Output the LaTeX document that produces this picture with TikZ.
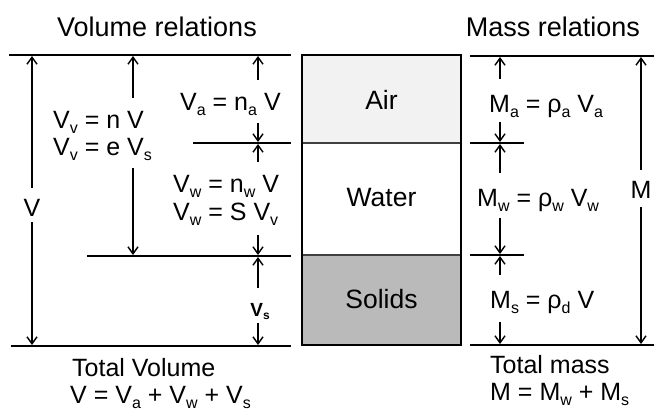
\documentclass[tikz,border=0pt]{standalone}
\usepackage{fontspec}
\setmainfont{Liberation Sans}
\usetikzlibrary{arrows.meta}
\newcommand\lsub[1]{\raisebox{-5pt}{\fontsize{16}{16}\selectfont #1}}
\begin{document}
\begin{tikzpicture}[x=1pt,y=-1pt,
  hline/.style={line width=2pt},
  dim/.style={line width=1.4pt,-{Straight Barb[length=7pt,width=10pt]}},
  lbl/.style={anchor=base west,inner sep=0pt,font=\fontsize{25}{30}\selectfont},
  clbl/.style={anchor=base,inner sep=0pt,font=\fontsize{25}{30}\selectfont},
  boxlbl/.style={anchor=base,inner sep=0pt,font=\fontsize{26.5}{30}\selectfont},
  title/.style={anchor=base,inner sep=0pt,font=\fontsize{27}{32}\selectfont}]
\useasboundingbox (0,0) rectangle (654,408);
% titles
\node[title] (tv) at (157,36) {Volume relations};
\node[title] (tm) at (553,36) {Mass relations};
% phase box
\path[fill=black!5] (302,55) rectangle (461,143);
\path[fill=black!27] (302,255) rectangle (461,345);
\draw[line width=1.6pt,black!75] (302,143) -- (461,143);
\draw[line width=1.6pt,black!75] (302,255) -- (461,255);
\draw[line width=2pt] (302,55) rectangle (461,345);
\node[boxlbl] (air) at (381.5,109) {Air};
\node[boxlbl] (water) at (381.5,206) {Water};
\node[boxlbl] (solids) at (381.5,308) {Solids};
% left reference lines
\draw[hline] (9,55) coordinate (L0a) -- (291,55) coordinate (L0b);
\draw[line width=2.6pt] (193,143) coordinate (L1a) -- (291,143) coordinate (L1b);
\draw[hline] (87,256) coordinate (L2a) -- (291,256) coordinate (L2b);
\draw[hline] (11,346) coordinate (L3a) -- (291,346) coordinate (L3b);
% right reference lines
\draw[hline] (470,56) coordinate (R0a) -- (654,56) coordinate (R0b);
\draw[hline] (470,143) coordinate (R1a) -- (524,143) coordinate (R1b);
\draw[hline] (470,255) coordinate (R2a) -- (524,255) coordinate (R2b);
\draw[hline] (470,345) coordinate (R3a) -- (654,345) coordinate (R3b);
% left labels
\node[clbl] (V) at (32,216) {V};
\node[lbl] (vv1) at (53,128) {V\lsub{v} = n V};
\node[lbl] (vv2) at (53,155) {V\lsub{v} = e V\lsub{s}};
\node[lbl] (va) at (180,110) {V\lsub{a} = n\lsub{a} V};
\node[lbl] (vw1) at (173,192) {V\lsub{w} = n\lsub{w} V};
\node[lbl] (vw2) at (173,220) {V\lsub{w} = S V\lsub{v}};
\node[anchor=base,inner sep=0pt,font=\fontsize{19}{22}\selectfont\bfseries] (vs) at (260,316) {V\raisebox{-3pt}{\fontsize{12}{12}\selectfont s}};
\node[lbl] (tv1) at (72,376) {Total Volume};
\node[lbl] (tv2) at (70,403) {V = V\lsub{a} + V\lsub{w} + V\lsub{s}};
% right labels
\node[lbl] (ma) at (489,112) {M\lsub{a} = ρ\lsub{a} V\lsub{a}};
\node[lbl] (mw) at (477,206) {M\lsub{w} = ρ\lsub{w} V\lsub{w}};
\node[lbl] (ms) at (490,308) {M\lsub{s} = ρ\lsub{d} V};
\node[clbl] (M) at (641,198) {M};
\node[lbl] (tm1) at (490,373) {Total mass};
\node[lbl] (tm2) at (490,400) {M = M\lsub{w} + M\lsub{s}};
% left dimension arrows
\draw[dim] (32,188) coordinate (a1) -- (32,56) coordinate (b1);
\draw[dim] (32,222) coordinate (a2) -- (32,345) coordinate (b2);
\draw[dim] (133,98) coordinate (a3) -- (133,56) coordinate (b3);
\draw[dim] (133,168) coordinate (a4) -- (133,255) coordinate (b4);
\draw[dim] (258,80) coordinate (a5) -- (258,56) coordinate (b5);
\draw[dim] (258,123) coordinate (a6) -- (258,142) coordinate (b6);
\draw[dim] (258,162) coordinate (a7) -- (258,144) coordinate (b7);
\draw[dim] (258,235) coordinate (a8) -- (258,255) coordinate (b8);
\draw[dim] (258,288) coordinate (a9) -- (258,257) coordinate (b9);
\draw[dim] (258,323) coordinate (a10) -- (258,345) coordinate (b10);
% right dimension arrows
\draw[dim] (500,79) coordinate (c1) -- (500,57) coordinate (d1);
\draw[dim] (500,122) coordinate (c2) -- (500,142) coordinate (d2);
\draw[dim] (500,173) coordinate (c3) -- (500,144) coordinate (d3);
\draw[dim] (500,218) coordinate (c4) -- (500,254) coordinate (d4);
\draw[dim] (500,275) coordinate (c5) -- (500,256) coordinate (d5);
\draw[dim] (500,322) coordinate (c6) -- (500,344) coordinate (d6);
\draw[dim] (641,170) coordinate (c7) -- (641,57) coordinate (d7);
\draw[dim] (641,207) coordinate (c8) -- (641,344) coordinate (d8);
\end{tikzpicture}
\end{document}
